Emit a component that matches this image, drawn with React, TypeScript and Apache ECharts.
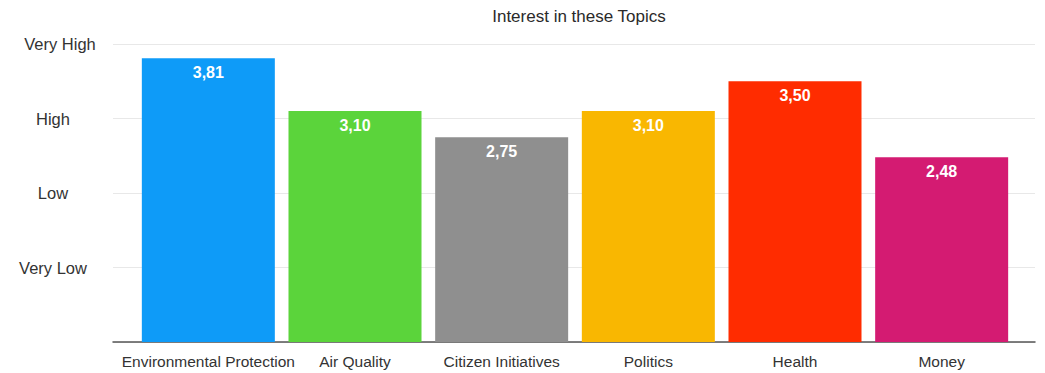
import React, { useEffect, useRef } from "react";
import * as echarts from "echarts";

const categories = [
  "Environmental Protection",
  "Air Quality",
  "Citizen Initiatives",
  "Politics",
  "Health",
  "Money",
];
const values = [3.81, 3.1, 2.75, 3.1, 3.5, 2.48];
const barColors = ["#0E9BF8", "#5BD43B", "#8F8F8F", "#F9B701", "#FF2C00", "#D41B72"];
const levelLabels = ["", "Very Low", "Low", "High", "Very High"];

const FONT = "'Liberation Sans', Arial, Helvetica, sans-serif";

export default function App() {
  const ref = useRef<HTMLDivElement>(null);
  useEffect(() => {
    if (!ref.current) return;
    const chart = echarts.init(ref.current, undefined, { renderer: "svg" });
    chart.setOption({
      animation: false,
      backgroundColor: "#ffffff",
      textStyle: { fontFamily: FONT },
      title: {
        text: "Interest in these Topics",
        left: 574,
        textAlign: "center",
        top: 3,
        textStyle: { fontSize: 17, fontWeight: "normal", color: "#2a2a2a", fontFamily: FONT },
      },
      grid: [
        { left: 113, right: 10, top: 44, bottom: 31 },
        { left: 135, right: 30, top: 44, bottom: 31 },
      ],
      xAxis: [
        {
          gridIndex: 0,
          type: "category",
          data: [""],
          axisLine: { show: true, lineStyle: { color: "#555", width: 1.5 } },
          axisTick: { show: false },
          axisLabel: { show: false },
          splitLine: { show: false },
        },
        {
          gridIndex: 1,
          type: "category",
          data: categories,
          axisLine: { show: false },
          axisTick: { show: false },
          axisLabel: { color: "#333", fontSize: 15.5, margin: 11, fontFamily: FONT, interval: 0 },
        },
      ],
      yAxis: [
        {
          gridIndex: 0,
          type: "value",
          min: 0,
          max: 4,
          interval: 1,
          axisLine: { show: false },
          axisTick: { show: false },
          splitLine: { show: true, lineStyle: { color: "#e8e8e8", width: 1 } },
          axisLabel: {
            margin: 60,
            align: "center",
            color: "#333",
            fontSize: 16.5,
            fontFamily: FONT,
            formatter: (v: number) => {
              const t = levelLabels[Math.round(v)] || "";
              if (!t) return "";
              return t === "Very High" ? "{vh|" + t + "}" : t;
            },
            rich: {
              vh: { fontSize: 16.5, color: "#333", fontFamily: FONT, padding: [0, 0, 0, 14] },
            },
          },
        },
        {
          gridIndex: 1,
          type: "value",
          min: 0,
          max: 4,
          interval: 1,
          show: false,
          splitLine: { show: false },
        },
      ],
      series: [
        {
          type: "bar",
          xAxisIndex: 1,
          yAxisIndex: 1,
          barWidth: 133,
          data: values.map((v, i) => ({ value: v, itemStyle: { color: barColors[i] } })),
          label: {
            show: true,
            position: "insideTop",
            distance: 6,
            color: "#ffffff",
            fontSize: 16,
            fontWeight: "bold",
            fontFamily: FONT,
            formatter: (p: any) => Number(p.value).toFixed(2).replace(".", ","),
          },
        },
      ],
    });
    return () => chart.dispose();
  }, []);
  return <div ref={ref} style={{ width: 1045, height: 373, position: "absolute", left: 0, top: 0 }} />;
}
